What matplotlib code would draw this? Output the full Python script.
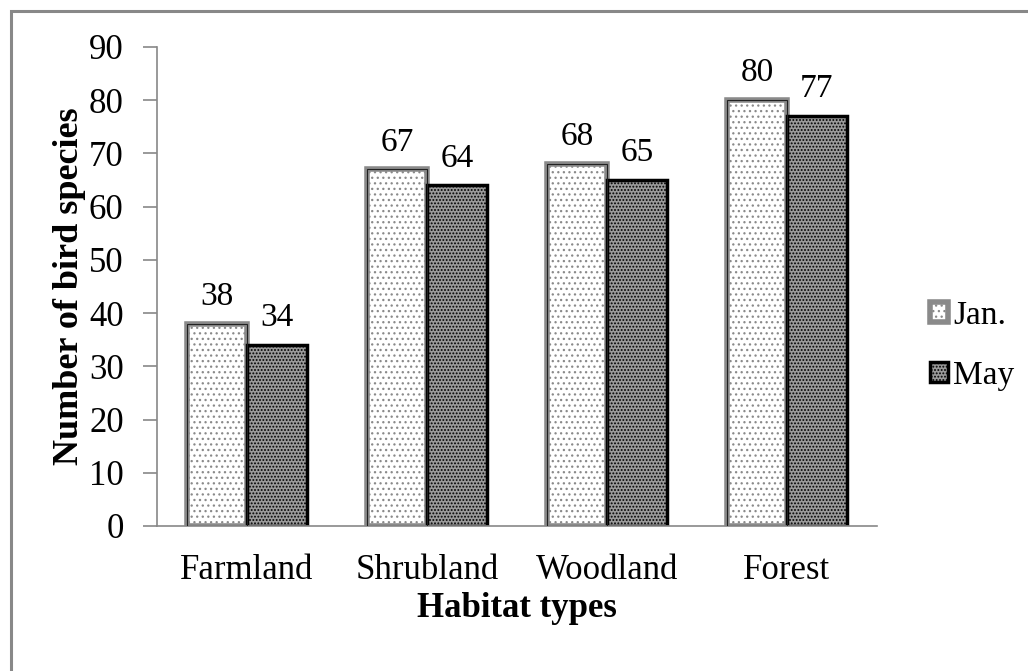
import numpy as np
import matplotlib.pyplot as plt
from matplotlib.patches import Rectangle

# data
habitats = ["Farmland", "Shrubland", "Woodland", "Forest"]
jan = [38, 67, 68, 80]
may = [34, 64, 65, 77]
series_names = ["Jan.", "May"]
yticks = list(range(0, 91, 10))

plt.rcParams['font.family'] = ['Liberation Serif', 'DejaVu Serif']
plt.rcParams['hatch.linewidth'] = 0.9

fig = plt.figure(figsize=(10.28, 6.71), dpi=100)
ax = fig.add_axes([0.1527, 0.2161, 0.7004, 0.7139])

x = np.arange(len(habitats))
w = 1 / 3

# Jan bars: light dots, double grey border
plt.rcParams['hatch.color'] = '#444444'
b1 = ax.bar(x - w / 2, jan, w, facecolor='white', edgecolor='#8a8a8a',
            linewidth=4, hatch='...', zorder=2)
ax.bar(x - w / 2, jan, w, facecolor='none', edgecolor='#222222',
       linewidth=0.8, zorder=3)
# May bars: dense dark dots
b2 = ax.bar(x + w / 2, may, w, facecolor='#9a9a9a', edgecolor='black',
            linewidth=2.5, hatch='.....', zorder=2)

for xi, v in zip(x - w / 2, jan):
    ax.text(xi, v + 2.2, str(v), ha='center', va='bottom', fontsize=24)
for xi, v in zip(x + w / 2, may):
    ax.text(xi, v + 2.2, str(v), ha='center', va='bottom', fontsize=24)

ax.set_xlim(-0.5, 3.5)
ax.set_ylim(0, 90)
ax.set_yticks(yticks)
ax.set_xticks(x)
ax.set_xticklabels(habitats, fontsize=25)
ax.tick_params(axis='y', labelsize=25, length=10, color='#888888', width=1.2, pad=14)
ax.tick_params(axis='x', length=0, pad=20)

for s in ['top', 'right']:
    ax.spines[s].set_visible(False)
for s in ['left', 'bottom']:
    ax.spines[s].set_color('#888888')
    ax.spines[s].set_linewidth(1.2)

ax.set_xlabel("Habitat types", fontsize=25, fontweight='bold', labelpad=4)
ax.set_ylabel("Number of bird species", fontsize=26, fontweight='bold', labelpad=2)

fig.legend([b1, b2], series_names, loc='center left', bbox_to_anchor=(0.875, 0.485),
           frameon=False, fontsize=24, handlelength=0.55, handleheight=0.55,
           handletextpad=0.15, labelspacing=0.9)

# outer frame (clipped at right/bottom as in the reference)
fig.patches.append(Rectangle((0.0107, -0.2), 1.2, 1.2 - 0.0164, transform=fig.transFigure,
                             fill=False, edgecolor='#888888', linewidth=2.2))

fig.savefig("out.png", dpi=100)
